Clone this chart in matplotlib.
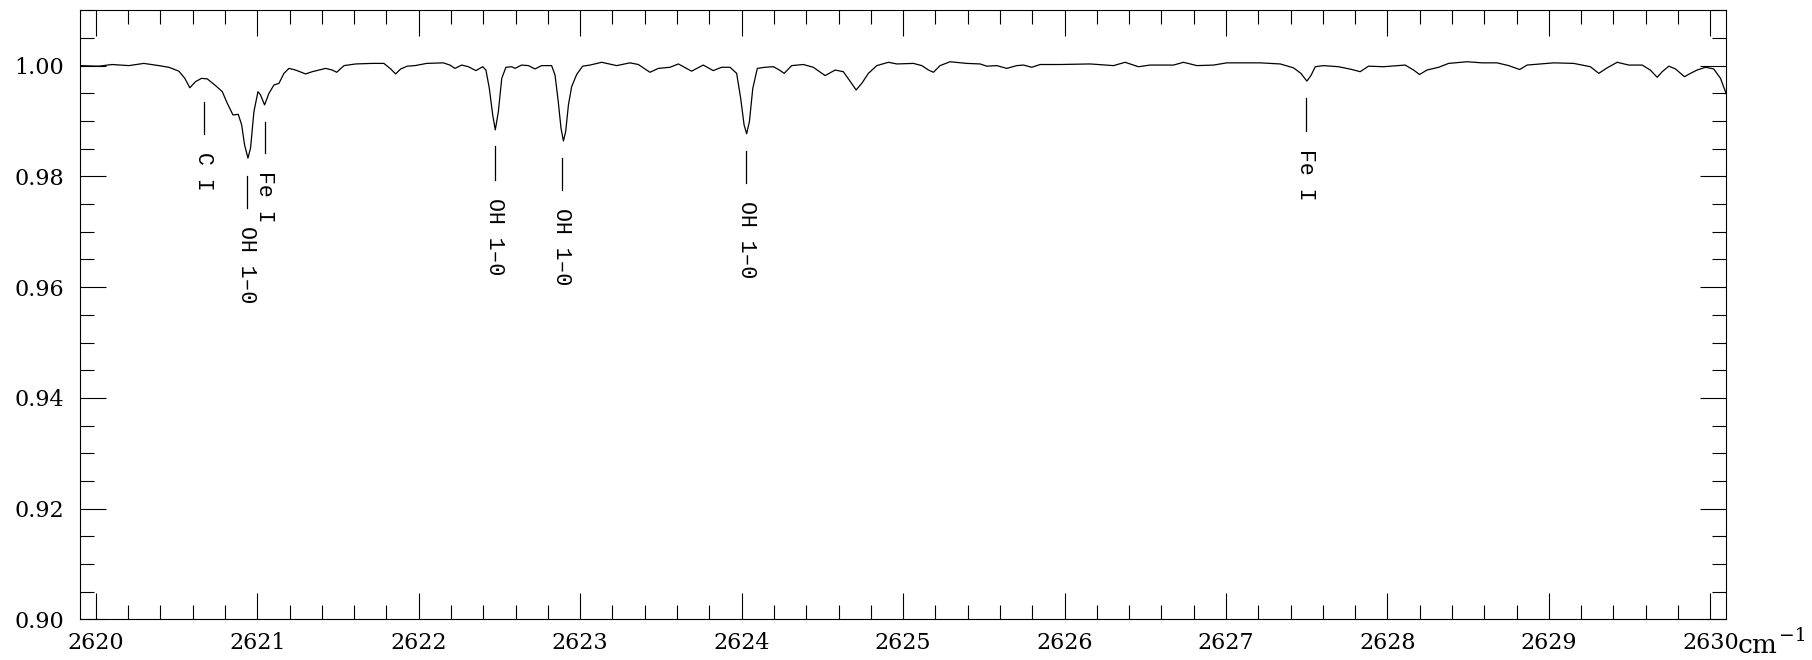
import matplotlib
matplotlib.use("Agg")
import matplotlib.pyplot as plt
from matplotlib.ticker import MultipleLocator, FormatStrFormatter

# normalised spectrum
wavenumber = [
    2619.895, 2620.019, 2620.100, 2620.204, 2620.297, 2620.390, 2620.452, 2620.514,
    2620.551, 2620.582, 2620.617, 2620.654, 2620.690, 2620.741, 2620.783, 2620.814,
    2620.849, 2620.882, 2620.903, 2620.921, 2620.942, 2620.958, 2620.979, 2621.004,
    2621.020, 2621.045, 2621.072, 2621.103, 2621.134, 2621.165, 2621.196, 2621.237,
    2621.299, 2621.340, 2621.423, 2621.464, 2621.492, 2621.537, 2621.609, 2621.712,
    2621.784, 2621.826, 2621.857, 2621.888, 2621.929, 2621.976, 2622.049, 2622.152,
    2622.193, 2622.224, 2622.266, 2622.307, 2622.354, 2622.396, 2622.416, 2622.437,
    2622.458, 2622.474, 2622.493, 2622.514, 2622.540, 2622.576, 2622.596, 2622.637,
    2622.679, 2622.720, 2622.761, 2622.823, 2622.844, 2622.864, 2622.881, 2622.896,
    2622.910, 2622.927, 2622.947, 2622.978, 2623.015, 2623.061, 2623.133, 2623.226,
    2623.308, 2623.360, 2623.432, 2623.484, 2623.556, 2623.608, 2623.690, 2623.762,
    2623.824, 2623.876, 2623.928, 2623.969, 2623.994, 2624.015, 2624.031, 2624.048,
    2624.069, 2624.097, 2624.145, 2624.197, 2624.234, 2624.263, 2624.310, 2624.382,
    2624.444, 2624.517, 2624.579, 2624.630, 2624.676, 2624.709, 2624.744, 2624.785,
    2624.837, 2624.909, 2624.961, 2625.064, 2625.116, 2625.157, 2625.188, 2625.229,
    2625.291, 2625.395, 2625.477, 2625.518, 2625.580, 2625.642, 2625.704, 2625.746,
    2625.797, 2625.849, 2625.973, 2626.159, 2626.303, 2626.375, 2626.458, 2626.530,
    2626.675, 2626.737, 2626.820, 2626.923, 2627.005, 2627.212, 2627.336, 2627.418,
    2627.464, 2627.501, 2627.526, 2627.553, 2627.604, 2627.697, 2627.780, 2627.831,
    2627.883, 2627.976, 2628.110, 2628.162, 2628.199, 2628.245, 2628.317, 2628.379,
    2628.493, 2628.586, 2628.679, 2628.751, 2628.819, 2628.865, 2628.947, 2629.030,
    2629.154, 2629.257, 2629.309, 2629.361, 2629.423, 2629.495, 2629.578, 2629.628,
    2629.671, 2629.702, 2629.743, 2629.784, 2629.840, 2629.877, 2629.918, 2629.970,
    2630.021, 2630.063, 2630.100,
]
flux = [
    1.0000, 0.9999, 1.0002, 1.0000, 1.0004, 1.0000, 0.9997, 0.9990,
    0.9977, 0.9960, 0.9971, 0.9977, 0.9976, 0.9964, 0.9953, 0.9932,
    0.9911, 0.9912, 0.9893, 0.9857, 0.9833, 0.9851, 0.9917, 0.9953,
    0.9947, 0.9929, 0.9950, 0.9965, 0.9968, 0.9986, 0.9995, 0.9992,
    0.9985, 0.9989, 0.9995, 0.9992, 0.9988, 1.0000, 1.0003, 1.0004,
    1.0004, 0.9994, 0.9985, 0.9994, 0.9999, 1.0000, 1.0004, 1.0005,
    1.0001, 0.9995, 1.0001, 0.9998, 0.9991, 0.9998, 0.9992, 0.9959,
    0.9911, 0.9884, 0.9917, 0.9977, 0.9997, 0.9998, 0.9995, 1.0001,
    1.0000, 0.9994, 1.0000, 1.0000, 0.9983, 0.9935, 0.9887, 0.9864,
    0.9881, 0.9929, 0.9962, 0.9984, 0.9999, 1.0001, 1.0006, 1.0000,
    1.0005, 1.0002, 0.9988, 0.9995, 0.9997, 1.0003, 0.9990, 1.0001,
    0.9991, 0.9997, 0.9997, 0.9986, 0.9941, 0.9893, 0.9877, 0.9899,
    0.9959, 0.9995, 0.9997, 0.9998, 0.9992, 0.9986, 1.0000, 1.0002,
    0.9997, 0.9982, 0.9992, 0.9989, 0.9970, 0.9956, 0.9968, 0.9986,
    1.0000, 1.0006, 1.0003, 1.0004, 1.0000, 0.9992, 0.9988, 1.0000,
    1.0007, 1.0004, 1.0003, 0.9999, 1.0000, 0.9995, 1.0000, 1.0001,
    0.9997, 1.0002, 1.0002, 1.0003, 1.0000, 1.0006, 0.9998, 1.0001,
    1.0001, 1.0006, 1.0000, 1.0001, 1.0005, 1.0005, 1.0003, 0.9996,
    0.9986, 0.9972, 0.9982, 0.9998, 1.0000, 0.9998, 0.9993, 0.9989,
    0.9999, 0.9998, 1.0001, 0.9992, 0.9984, 0.9992, 0.9997, 1.0004,
    1.0007, 1.0005, 1.0005, 1.0000, 0.9993, 1.0001, 1.0003, 1.0005,
    1.0004, 0.9998, 0.9986, 0.9996, 1.0006, 1.0001, 1.0001, 0.9992,
    0.9979, 0.9989, 0.9999, 0.9994, 0.9980, 0.9986, 0.9992, 0.9997,
    0.9994, 0.9977, 0.9948,
]

# line identifications
line_wn = [2620.667, 2620.934, 2621.047, 2622.472, 2622.885, 2624.027, 2627.495]
line_names = ["C I", "OH 1–0", "Fe I", "OH 1–0", "OH 1–0", "OH 1–0", "Fe I"]
mark_top = [0.9935, 0.9801, 0.9899, 0.9854, 0.9833, 0.9845, 0.9942]
mark_bottom = [0.9877, 0.9743, 0.9842, 0.9794, 0.9776, 0.9788, 0.9882]

plt.rcParams["font.family"] = "DejaVu Serif"
plt.rcParams["mathtext.fontset"] = "dejavuserif"

fig = plt.figure(figsize=(18.12, 6.6), dpi=100)
ax = fig.add_axes([0.044, 0.0614, 0.9088, 0.9231])

ax.plot(wavenumber, flux, color="black", lw=0.9)

for wn, name, top, bot in zip(line_wn, line_names, mark_top, mark_bottom):
    ax.plot([wn, wn], [top, bot], color="black", lw=0.9)
    ax.text(wn, bot - 0.0033, name, rotation=270, ha="center", va="top",
            family="Liberation Mono", fontsize=15.5)

ax.set_xlim(2619.9, 2630.1)
ax.set_ylim(0.90, 1.01)
ax.xaxis.set_major_locator(MultipleLocator(1))
ax.xaxis.set_minor_locator(MultipleLocator(0.2))
ax.yaxis.set_major_locator(MultipleLocator(0.02))
ax.yaxis.set_minor_locator(MultipleLocator(0.005))
ax.yaxis.set_major_formatter(FormatStrFormatter("%.2f"))

ax.tick_params(which="both", direction="in", top=True, right=True,
               width=0.8, color="black")
ax.tick_params(which="major", length=19, labelsize=16)
ax.tick_params(axis="x", which="major", pad=9)
ax.tick_params(axis="y", which="major", pad=11)
ax.tick_params(which="minor", length=10)
for sp in ax.spines.values():
    sp.set_linewidth(0.8)

# unit tacked on after the last tick label: "cm" then a raised "-1"
ax.annotate("cm", xy=(2630, 0.90), xycoords="data",
            xytext=(19.5, -23.9), textcoords="offset points",
            ha="left", va="baseline", fontsize=19, annotation_clip=False)
ax.annotate("\u22121", xy=(2630, 0.90), xycoords="data",
            xytext=(49.5, -15.8), textcoords="offset points",
            ha="left", va="baseline", fontsize=13.5, annotation_clip=False)

fig.savefig("out.png", dpi=100)
